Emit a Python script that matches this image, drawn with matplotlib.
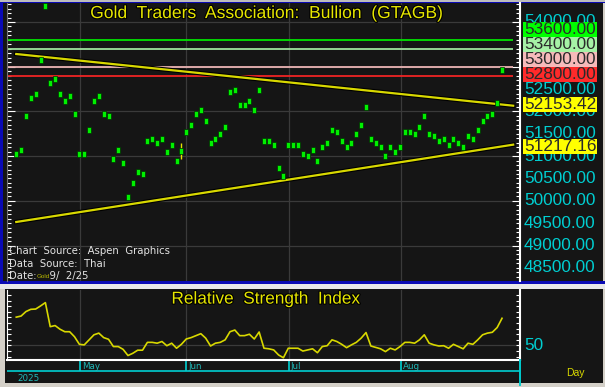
import matplotlib
matplotlib.use('Agg')
import matplotlib.pyplot as plt
import matplotlib.patheffects as pe
from matplotlib.patches import Rectangle
from matplotlib.ticker import MultipleLocator
from matplotlib.transforms import blended_transform_factory
import numpy as np

# daily closes, Gold Traders Association bullion (THB), mid Apr -> 2 Sep 2025
closes = [51047, 51137, 51897, 52300, 52389, 53150, 54360, 52635, 52725, 52389,
          52233, 52345, 51942, 51047, 51047, 51584, 52233, 52345, 51942, 51897,
          50935, 51137, 50846, 50085, 50398, 50645, 50600, 51338, 51383, 51293,
          51383, 51092, 51249, 50890, 51114, 51539, 51696, 51942, 52032, 51786,
          51293, 51383, 51495, 51651, 52434, 52479, 52144, 52144, 52233, 52032,
          52479, 51338, 51338, 51249, 50734, 50555, 51249, 51249, 51249, 51047,
          51003, 51137, 50890, 51204, 51293, 51584, 51539, 51338, 51204, 51293,
          51495, 51696, 52099, 51383, 51293, 51204, 51003, 51204, 51092, 51204,
          51539, 51539, 51495, 51651, 51897, 51495, 51450, 51338, 51383, 51249,
          51383, 51293, 51204, 51450, 51383, 51584, 51786, 51897, 51942, 52189,
          52926]

rsi = [60.1, 60.5, 62.1, 62.9, 63.0, 64.1, 65.3, 56.7, 57.1, 55.8,
       54.9, 54.9, 53.1, 50.4, 50.2, 52.0, 53.8, 54.4, 52.8, 52.2,
       49.6, 49.6, 48.6, 46.4, 47.2, 48.3, 48.3, 51.1, 51.1, 50.8,
       51.4, 49.9, 50.8, 49.0, 50.4, 52.3, 52.8, 53.5, 54.2, 52.6,
       49.8, 50.8, 51.1, 52.0, 54.9, 55.5, 53.5, 53.5, 54.0, 52.3,
       54.8, 49.0, 48.8, 48.4, 46.6, 45.6, 49.0, 49.0, 49.0, 48.0,
       48.4, 48.8, 47.4, 49.6, 49.9, 52.0, 51.4, 50.4, 49.2, 50.2,
       51.1, 52.6, 54.6, 49.8, 49.3, 48.8, 47.8, 49.0, 48.4, 49.6,
       51.1, 51.1, 50.8, 52.0, 53.8, 50.8, 50.2, 49.8, 49.9, 49.0,
       50.4, 49.6, 48.8, 50.8, 50.4, 52.0, 53.8, 54.4, 54.7, 56.4,
       59.7]

month_pos = [13.2, 35.0, 56.1, 79.2]
month_names = ['May', 'Jun', 'Jul', 'Aug']

levels = [53600, 53400, 53000, 52800]
level_colors = ['#00E400', '#9EE29E', '#EBB3B3', '#F02424']
level_bg = ['#00FF00', '#A6F2A6', '#F6BABA', '#FF2A2A']
level_label_at = [53832, 53497, 53161, 52826]   # stacked so boxes don't overlap

upper_trend = [53284, 52153.42]   # value at first bar and at last bar
lower_trend = [49526, 51217.16]
# axis labels left visible (53000/53500 sit fully under the level tags)
price_labels = [54000, 52500, 52000, 51500, 51000, 50500, 50000, 49500, 49000, 48500]
cursor_idx = 34

BG = '#151515'
FRAME = '#D4D0C8'
BLUE = '#0A0AB4'
CYAN = '#00CED1'
YEL = '#E6E600'
GRID = '#3A3A3A'
FONT = 'Liberation Sans'

W, H = 605, 387
fig = plt.figure(figsize=(W / 100, H / 100), dpi=100, facecolor=FRAME)


def box(x0, y0, x1, y1):
    # pixel box (top-left origin) -> figure fraction rect
    return [x0 / W, 1 - y1 / H, (x1 - x0) / W, (y1 - y0) / H]


def panel(x0, y0, x1, y1, color):
    l, b, w, h = box(x0, y0, x1, y1)
    fig.add_artist(Rectangle((l, b), w, h, transform=fig.transFigure,
                             facecolor=color, edgecolor='none', zorder=-10))


panel(0, 0, 605, 3, '#BDBDBD')
panel(0, 2, 605, 3, BLUE)
panel(0, 2, 3, 284, BLUE)
panel(3, 3, 603, 281, BG)
panel(0, 281, 605, 284, BLUE)
panel(0, 284, 605, 289, '#E8E8E8')
panel(5, 289, 603, 383, BG)

x = np.arange(len(closes))
last = len(closes) - 1
x_end = 102.3

# ---- main price panel ----
ax = fig.add_axes(box(7, 3, 520, 281))
ax.set_facecolor(BG)
ax.set_xlim(-1.9, 103.7)
ax.set_ylim(48206, 54425)
ax.yaxis.set_major_locator(MultipleLocator(1000))
ax.yaxis.set_minor_locator(MultipleLocator(100))
ax.tick_params(axis='y', which='both', direction='in', colors='white',
               left=True, right=True, labelleft=False, labelright=False, width=0.8)
ax.tick_params(axis='y', which='major', length=6)
ax.tick_params(axis='y', which='minor', length=3)
ax.set_xticks([])
ax.grid(axis='y', color=GRID, lw=0.9)
for m in month_pos:
    ax.axvline(m, color=GRID, lw=0.9, zorder=0)
for s in ['top', 'bottom']:
    ax.spines[s].set_visible(False)
ax.spines['left'].set_color('#777777')
ax.spines['right'].set_color('white')
ax.spines['right'].set_linewidth(1.5)

for lv, c in zip(levels, level_colors):
    ax.hlines(lv, -1.9, x_end, color=c, lw=1.3, zorder=2)

outline = [pe.Stroke(linewidth=3.2, foreground='black'), pe.Normal()]
for tr in (upper_trend, lower_trend):
    slope = (tr[1] - tr[0]) / last
    xs = np.array([0, x_end])
    ax.plot(xs, tr[0] + slope * xs, color='#D8D800', lw=1.6, zorder=3,
            path_effects=outline)

ax.vlines(cursor_idx, closes[cursor_idx] - 170, closes[cursor_idx] + 170,
          color=YEL, lw=1.0, zorder=4)
rect_marker = [(-0.34, -0.5), (0.34, -0.5), (0.34, 0.5), (-0.34, 0.5), (-0.34, -0.5)]
ax.plot(x, closes, ls='none', marker=rect_marker, ms=4.1, mfc='#00F000',
        mec='#003000', mew=0.5, zorder=5, clip_on=True)

title_fx = [pe.withStroke(linewidth=1.6, foreground='black')]
ax.text(0.505, 0.962, 'Gold  Traders  Association:  Bullion  (GTAGB)',
        transform=ax.transAxes, ha='center', va='center', color=YEL,
        fontsize=12.6, family=FONT, path_effects=title_fx, zorder=6)

src_kw = dict(transform=ax.transAxes, ha='left', va='center', color='#E4E4E4',
              fontsize=7.3, family='DejaVu Sans', zorder=6)
ax.text(0.004, (281 - 251) / 278, 'Chart  Source:  Aspen  Graphics', **src_kw)
ax.text(0.004, (281 - 264) / 278, 'Data  Source:  Thai', **src_kw)
ax.text(0.004, (281 - 276) / 278, 'Date:    9/  2/25', **src_kw)
ax.text(0.058, (281 - 276.5) / 278, 'Gold', transform=ax.transAxes, ha='left',
        va='center', color='#B8B800', fontsize=4.5, family=FONT, zorder=7)

# right-hand price labels
tr_lab = blended_transform_factory(ax.transAxes, ax.transData)
lx0 = (523 - 7) / 513
bw = (597 - 523) / 513
bh = 15 / 278 * (54425 - 48206)
for p in price_labels:
    ax.text(lx0 + 0.002, p, f'{p:.2f}', transform=tr_lab, ha='left', va='center',
            color=CYAN, fontsize=12.4, family=FONT, clip_on=False, zorder=8)


def tag(y, label, bg):
    ax.add_patch(Rectangle((lx0, y - bh / 2), bw, bh, transform=tr_lab,
                           facecolor=bg, edgecolor='none', clip_on=False, zorder=9))
    ax.text(lx0 + 0.002, y, label, transform=tr_lab, ha='left', va='center',
            color='#2A2A2A', fontsize=12.4, family=FONT, clip_on=False, zorder=10)


for lv, at, bg in zip(levels, level_label_at, level_bg):
    tag(at, f'{lv:.2f}', bg)
tag(upper_trend[1] - 10, f'{upper_trend[1]:.2f}', '#FFFF00')
tag(lower_trend[1] - 13, f'{lower_trend[1]:.2f}', '#FFFF00')

# ---- RSI panel ----
ax2 = fig.add_axes(box(7, 290, 520, 360))
ax2.set_facecolor(BG)
ax2.set_xlim(-1.9, 103.7)
ax2.set_ylim(44.8, 69.8)
ax2.plot(x, rsi, color='#D8D800', lw=1.2, zorder=3)
ax2.axhline(50, color=GRID, lw=0.9, zorder=0)
for m in month_pos:
    ax2.axvline(m, color=GRID, lw=0.9, zorder=0)
ax2.set_xticks([])
ax2.yaxis.set_major_locator(MultipleLocator(10))
ax2.yaxis.set_minor_locator(MultipleLocator(2))
ax2.tick_params(axis='y', which='both', direction='in', colors='white',
                left=True, right=True, labelleft=False, labelright=False,
                length=3, width=0.8)
ax2.spines['top'].set_visible(False)
for s in ['left', 'right', 'bottom']:
    ax2.spines[s].set_color('white')
ax2.spines['right'].set_linewidth(1.5)
ax2.spines['bottom'].set_linewidth(1.5)
ax2.text(0.505, 0.87, 'Relative  Strength  Index', transform=ax2.transAxes,
         ha='center', va='center', color=YEL, fontsize=12.4, family=FONT,
         path_effects=title_fx, zorder=6)
ax2.text(lx0 + 0.002, 50, '50', transform=blended_transform_factory(ax2.transAxes, ax2.transData),
         ha='left', va='center', color=CYAN, fontsize=12.4, family=FONT, clip_on=False)

# ---- date strip ----
ax3 = fig.add_axes(box(7, 361, 520, 383))
ax3.set_xlim(-1.9, 103.7)
ax3.set_ylim(0, 1)
ax3.axis('off')
ax3.axhline(0.545, color=CYAN, lw=1.2)
ax3.vlines(month_pos, 0.545, 1.0, color=CYAN, lw=1.2)
for m, name in zip(month_pos, month_names):
    ax3.text(m + 0.35, 0.76, name, ha='left', va='center', color='#20B8B8',
             fontsize=6.3, family='DejaVu Sans')
ax3.text(0.2, 0.22, '2025', ha='left', va='center', color='#20B8B8',
         fontsize=6.3, family='DejaVu Sans')
ax3.plot([1, 1], [-0.1, 1.05], color=CYAN, lw=1.4, transform=ax3.transAxes,
         clip_on=False)
ax3.text(1.09, 0.45, 'Day', transform=ax3.transAxes, ha='left', va='center',
         color='#D8D800', fontsize=7.5, family=FONT)

fig.savefig('out.png', dpi=100, facecolor=FRAME)
